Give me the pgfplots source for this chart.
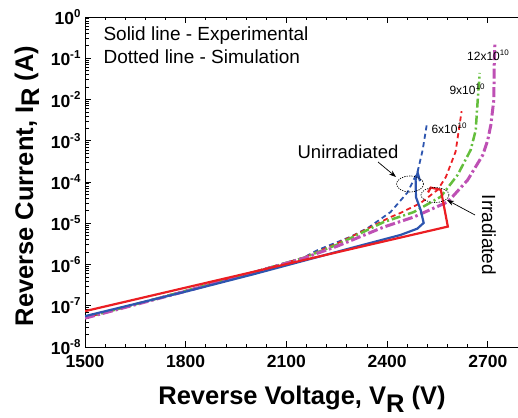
\documentclass[border=0pt]{standalone}
\usepackage{pgfplots}
\pgfplotsset{compat=1.18}
\usetikzlibrary{arrows.meta}
\usepackage{fontspec}
\setmainfont{Liberation Sans}
\definecolor{cblue}{RGB}{45,85,175}
\definecolor{cred}{RGB}{235,30,35}
\definecolor{cgreen}{RGB}{100,190,60}
\definecolor{cmag}{RGB}{190,80,180}
\newcommand\tp[1]{10\raisebox{0.42em}{\fontsize{11.5}{12}\selectfont #1}}
\newcommand\sx[1]{10\raisebox{0.45em}{\fontsize{8}{8}\selectfont #1}}
\begin{document}
\begin{tikzpicture}[x=1pt,y=1pt]
\path[use as bounding box] (0,0) rectangle (518,417);
\begin{axis}[at={(85pt,70pt)}, anchor=south west, scale only axis,
  width=433pt, height=330pt,
  xmin=1500, xmax=2790, ymin=1e-8, ymax=1, ymode=log,
  axis x line*=box, axis y line*=left,
  axis line style={line width=0.9pt},
  xtick={1500,1800,2100,2400,2700},
  xticklabels={1500,1800,2100,2400,2700},
  minor x tick num=4,
  ytick={1e-8,1e-7,1e-6,1e-5,1e-4,1e-3,1e-2,1e-1,1},
  yticklabels={\tp{-8},\tp{-7},\tp{-6},\tp{-5},\tp{-4},\tp{-3},\tp{-2},\tp{-1},\tp{0}},
  minor ytick={2e-8,3e-8,4e-8,5e-8,6e-8,7e-8,8e-8,9e-8,
    2e-7,3e-7,4e-7,5e-7,6e-7,7e-7,8e-7,9e-7,
    2e-6,3e-6,4e-6,5e-6,6e-6,7e-6,8e-6,9e-6,
    2e-5,3e-5,4e-5,5e-5,6e-5,7e-5,8e-5,9e-5,
    2e-4,3e-4,4e-4,5e-4,6e-4,7e-4,8e-4,9e-4,
    2e-3,3e-3,4e-3,5e-3,6e-3,7e-3,8e-3,9e-3,
    2e-2,3e-2,4e-2,5e-2,6e-2,7e-2,8e-2,9e-2,
    0.2,0.3,0.4,0.5,0.6,0.7,0.8,0.9},
  major tick length=6pt, minor tick length=3.5pt,
  tick style={black, line width=0.8pt},
  x tick label style={font=\bfseries\fontsize{17.5}{18}\selectfont, yshift=-5pt},
  y tick label style={font=\bfseries\fontsize{17.5}{18}\selectfont, xshift=-1pt},
]
% simulations
\addplot[cblue, line width=1.8pt, dash pattern=on 5pt off 3.5pt] coordinates {
(1500,5.1e-8) (1800,2.3e-7) (2000,6.5e-7) (2150,1.45e-6) (2193,2.24e-6) (2291,4.7e-6)
(2342,7.6e-6) (2410,1.86e-5) (2461,5.6e-5) (2491,1.78e-4) (2506,6.0e-4) (2518,2.4e-3)};
\addplot[cred, line width=1.8pt, dash pattern=on 5pt off 3.5pt] coordinates {
(1500,5.1e-8) (1800,2.3e-7) (2000,6.5e-7) (2150,1.45e-6) (2250,3.2e-6) (2330,6.6e-6)
(2410,1.41e-5) (2440,1.78e-5) (2500,3.1e-5) (2551,6.5e-5) (2575,1.32e-4) (2604,5.4e-4) (2622,5.2e-3)};
\addplot[cgreen, line width=2.5pt, dash pattern=on 9pt off 3pt on 2pt off 3pt] coordinates {
(1500,5.1e-8) (1800,2.3e-7) (2000,6.4e-7) (2150,1.44e-6) (2250,3.0e-6) (2390,1.07e-5)
(2479,1.86e-5) (2560,4.4e-5) (2610,1.48e-4) (2649,6.0e-4) (2664,1.8e-3) (2670,9.8e-3) (2676,4.4e-2)};
\addplot[cmag, line width=3pt, dash pattern=on 10pt off 3pt on 2.5pt off 3pt] coordinates {
(1500,5.0e-8) (1800,2.25e-7) (2000,6.3e-7) (2150,1.41e-6) (2250,2.75e-6) (2390,8.1e-6)
(2479,1.41e-5) (2581,3.3e-5) (2640,1.12e-4) (2685,4.5e-4) (2700,1.05e-3) (2709,2.4e-3)
(2718,9.8e-3) (2719,6.2e-2) (2721,0.234)};
% experiments
\addplot[cblue, line width=2.2pt] coordinates {
(1500,5.6e-8) (1800,2.2e-7) (2000,5.75e-7) (2300,2.6e-6) (2440,5.2e-6) (2490,7.4e-6)
(2509,1.02e-5) (2500,2.1e-5) (2486,4.3e-5) (2485,1.1e-4) (2491,1.7e-4) (2498,1.05e-4)};
\addplot[cred, line width=2.2pt] coordinates {
(1500,7.4e-8) (2000,6.6e-7) (2300,2.45e-6) (2581,8.3e-6)
(2560,6.5e-5) (2530,7.3e-5) (2522,5.6e-5)};
\end{axis}
% annotations
\node[anchor=base west, font=\fontsize{19}{20}\selectfont] at (100,376) {Solid line - Experimental};
\node[anchor=base west, font=\fontsize{19}{20}\selectfont] at (100,353) {Dotted line - Simulation};
\node[anchor=base, font=\fontsize{18.5}{19}\selectfont] at (348,258) {Unirradiated};
\node[rotate=-90, font=\fontsize{19}{20}\selectfont] at (489,182) {Irradiated};
\node[font=\fontsize{12}{12}\selectfont] at (449,289) {6x\sx{10}};
\node[font=\fontsize{12}{12}\selectfont] at (467,328) {9x\sx{10}};
\node[font=\fontsize{12}{12}\selectfont] at (488,362) {12x\sx{10}};
\draw[black, line width=0.7pt, dash pattern=on 1.2pt off 1.2pt] (410,233) ellipse [x radius=13.5, y radius=8];
\draw[black, line width=0.7pt, dash pattern=on 1.2pt off 1.2pt] (435,222) ellipse [x radius=14, y radius=7.5];
\draw[black, line width=0.7pt, -{Stealth[length=7pt,width=5pt]}] (378,255) -- (396,240);
\draw[black, line width=0.7pt, -{Stealth[length=7pt,width=5pt]}] (475,202) -- (447,217);
% axis labels
\node[font=\bfseries\fontsize{25.5}{26}\selectfont, anchor=base] at (302,13) {Reverse Voltage, V\raisebox{-8pt}{R} (V)};
\node[font=\bfseries\fontsize{25.5}{26}\selectfont, rotate=90, anchor=base] at (33,231) {Reverse Current, I\raisebox{-6pt}{R} (A)};
\end{tikzpicture}
\end{document}
